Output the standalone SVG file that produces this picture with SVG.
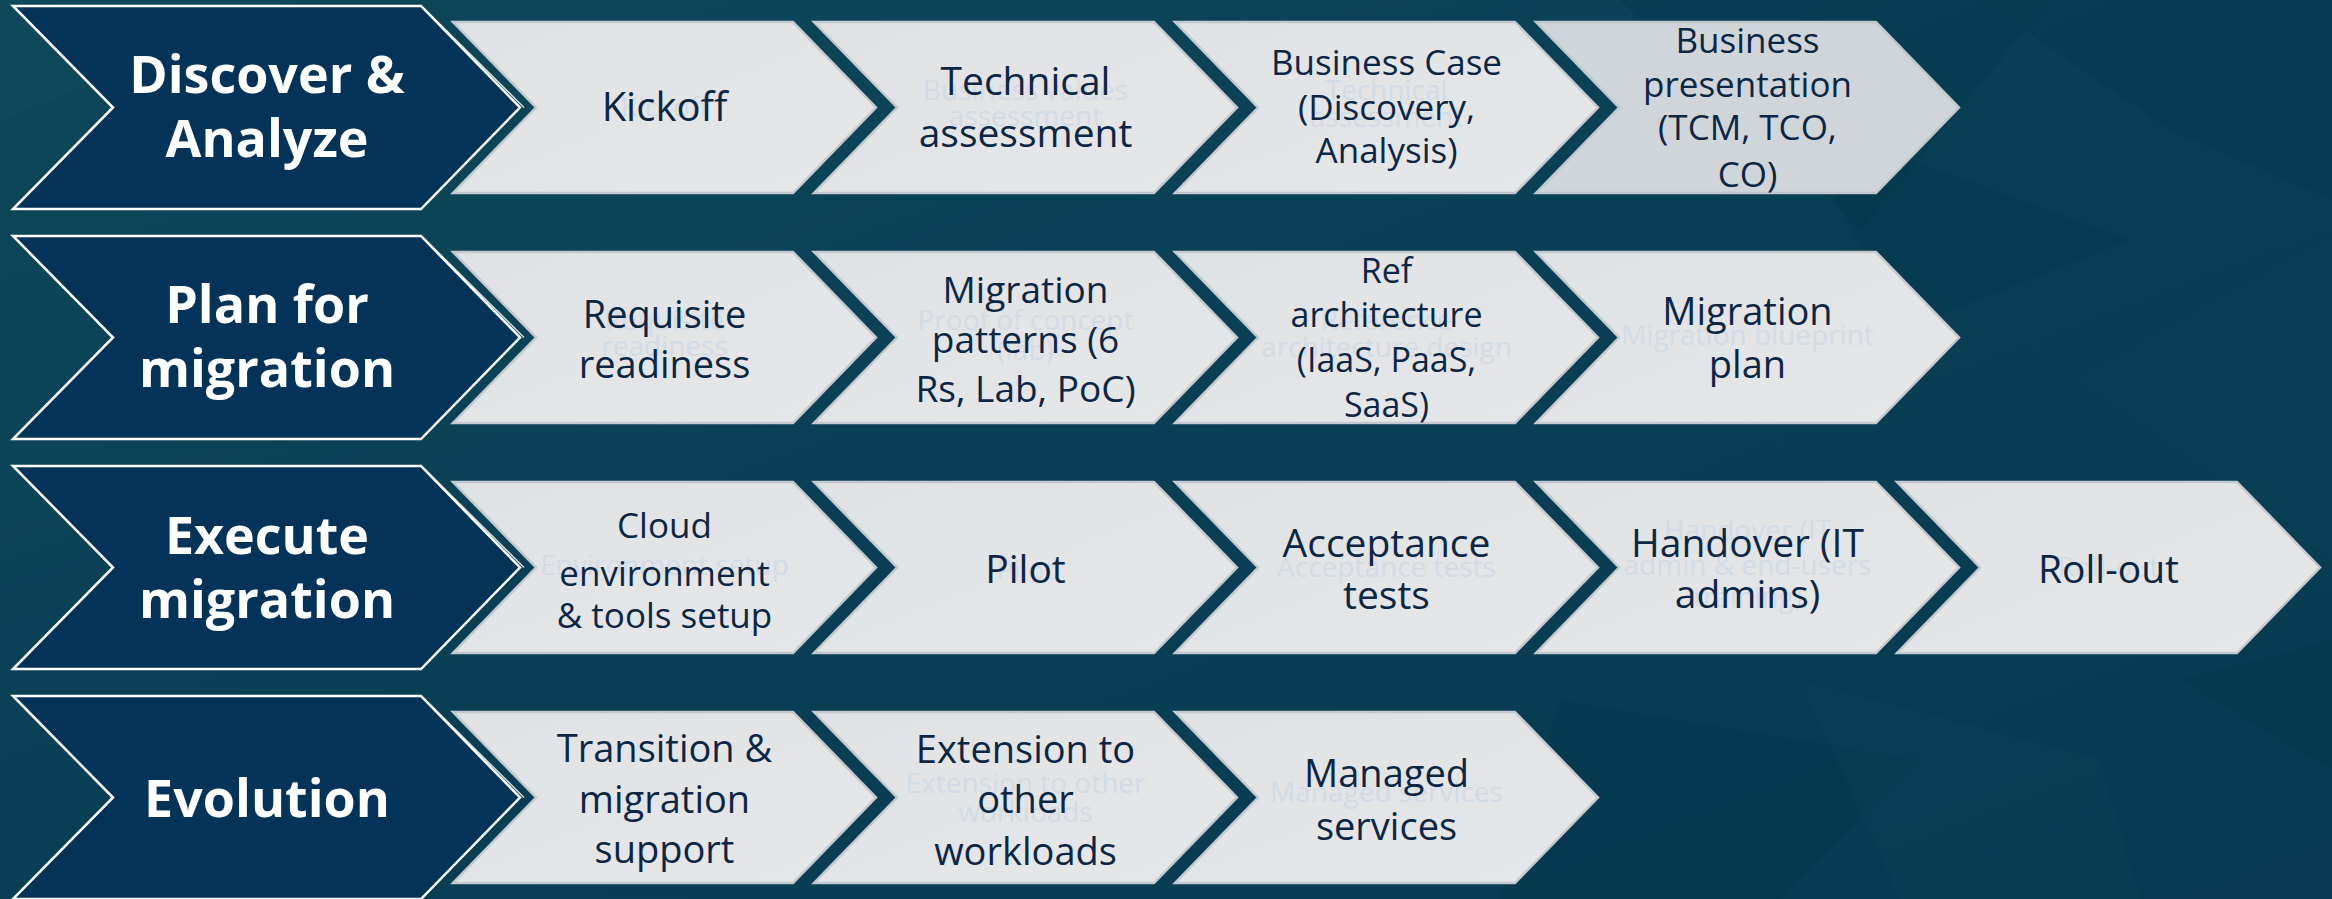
<svg xmlns="http://www.w3.org/2000/svg" xmlns:xlink="http://www.w3.org/1999/xlink" width="2332" height="899" viewBox="0 0 2332 899">
<defs>
<linearGradient id="bg" x1="0" y1="0" x2="1" y2="1">
<stop offset="0" stop-color="#0e4759"/>
<stop offset="0.5" stop-color="#093f55"/>
<stop offset="1" stop-color="#073a50"/>
</linearGradient>
<linearGradient id="lg" x1="0" y1="0" x2="1" y2="1">
<stop offset="0" stop-color="#e1e2e3"/>
<stop offset="1" stop-color="#e6e7e8"/>
</linearGradient>
<path id="dc" d="M0,-101.5 H408 L507,0 L408,101.5 H0 L100,0 Z"/>
<path id="lc" d="M0,-85.5 H340 L423,0 L340,85.5 H0 L83,0 Z"/>
<path id="dl" d="M411,-99 L511,0"/>
</defs>
<style>
.dark{fill:#04335a;stroke:#ffffff;stroke-width:2.5;stroke-linejoin:miter}
.dline{fill:none;stroke:#ffffff;stroke-width:1.5;opacity:0.8}
.light{fill:url(#lg);stroke:#c3c9cf;stroke-width:2.5}
.lightalt{fill:#d0d5d9;stroke:#bfc6cc;stroke-width:2.5}
.ht{font-family:"Open Sans","Noto Sans",sans-serif;font-weight:700;font-size:52px;fill:#ffffff;text-anchor:middle}
.t{font-family:"Open Sans","Noto Sans",sans-serif;fill:#0b2745;text-anchor:middle}
.g{font-family:"Open Sans","Noto Sans",sans-serif;fill:#d2dce6;text-anchor:middle;font-size:28px}
</style>
<rect x="0" y="0" width="2332" height="899" fill="url(#bg)"/>
<g id="background-facets">
<polygon points="1620,0 2050,0 1860,230" fill="#04364a" opacity="0.35"/>
<polygon points="1800,120 2130,240 1900,330" fill="#03354a" opacity="0.35"/>
<polygon points="1980,0 2332,0 2332,200 2170,130" fill="#06384d" opacity="0.4"/>
<polygon points="2080,380 2332,240 2332,560" fill="#0c4659" opacity="0.35"/>
<polygon points="1560,700 1920,760 1780,899 1500,899" fill="#04364a" opacity="0.3"/>
<polygon points="1800,680 2100,760 2140,899 1900,899" fill="#0c4659" opacity="0.3"/>
<polygon points="2180,680 2332,640 2332,770" fill="#04364a" opacity="0.35"/>
<polygon points="0,0 300,0 0,120" fill="#11505f" opacity="0.3"/>
</g>
<g id="phase-discover">
<use href="#dc" x="13" y="107.5" class="dark"/>
<use href="#dl" x="13" y="107.5" class="dline"/>
<text class="ht" x="267" y="93">Discover &amp;</text>
<text class="ht" x="267" y="157">Analyze</text>
</g>
<g id="phase-plan">
<use href="#dc" x="13" y="337.5" class="dark"/>
<use href="#dl" x="13" y="337.5" class="dline"/>
<text class="ht" x="267" y="323">Plan for</text>
<text class="ht" x="267" y="387">migration</text>
</g>
<g id="phase-execute">
<use href="#dc" x="13" y="567.5" class="dark"/>
<use href="#dl" x="13" y="567.5" class="dline"/>
<text class="ht" x="267" y="554">Execute</text>
<text class="ht" x="267" y="618">migration</text>
</g>
<g id="phase-evolution">
<use href="#dc" x="13" y="797.5" class="dark"/>
<use href="#dl" x="13" y="797.5" class="dline"/>
<text class="ht" x="267" y="817">Evolution</text>
</g>
<g id="connectors"/>
<!-- Row 1 -->
<g id="kickoff">
<use href="#lc" x="453" y="107.5" class="light"/>
<text class="g" x="664.5" y="117">Kickoff</text>
<text class="t" font-size="40" x="664.5" y="121">Kickoff</text>
</g>
<g id="technical-assessment">
<use href="#lc" x="814" y="107.5" class="light"/>
<text class="g" x="1025.5" y="100">Business values</text>
<text class="g" x="1025.5" y="126">assessment</text>
<text class="t" font-size="39" x="1025.5" y="95">Technical</text>
<text class="t" font-size="39" x="1025.5" y="147">assessment</text>
</g>
<g id="business-case">
<use href="#lc" x="1175" y="107.5" class="light"/>
<text class="g" x="1386.5" y="100">Technical</text>
<text class="g" x="1386.5" y="127">assessment</text>
<text class="t" font-size="35" x="1386.5" y="75">Business Case</text>
<text class="t" font-size="35" x="1386.5" y="120">(Discovery,</text>
<text class="t" font-size="35" x="1386.5" y="163">Analysis)</text>
</g>
<g id="business-presentation">
<use href="#lc" x="1536" y="107.5" class="lightalt"/>
<text class="t" font-size="35" x="1747.5" y="53">Business</text>
<text class="t" font-size="35" x="1747.5" y="97">presentation</text>
<text class="t" font-size="35" x="1747.5" y="140">(TCM, TCO,</text>
<text class="t" font-size="35" x="1747.5" y="187">CO)</text>
</g>
<!-- Row 2 -->
<g id="requisite-readiness">
<use href="#lc" x="453" y="337.5" class="light"/>
<text class="g" x="664.5" y="330">Requisite</text>
<text class="g" x="664.5" y="356">readiness</text>
<text class="t" font-size="38" x="664.5" y="328">Requisite</text>
<text class="t" font-size="38" x="664.5" y="378">readiness</text>
</g>
<g id="migration-patterns">
<use href="#lc" x="814" y="337.5" class="light"/>
<text class="g" x="1025.5" y="330">Proof of concept</text>
<text class="g" x="1025.5" y="360">(lab)</text>
<text class="t" font-size="37" x="1025.5" y="303">Migration</text>
<text class="t" font-size="37" x="1025.5" y="353">patterns (6</text>
<text class="t" font-size="37" x="1025.5" y="402">Rs, Lab, PoC)</text>
</g>
<g id="ref-architecture">
<use href="#lc" x="1175" y="337.5" class="light"/>
<text class="g" x="1386.5" y="330">Reference</text>
<text class="g" x="1386.5" y="357">architecture design</text>
<text class="t" font-size="34" x="1386.5" y="283">Ref</text>
<text class="t" font-size="34" x="1386.5" y="327">architecture</text>
<text class="t" font-size="34" x="1386.5" y="372">(IaaS, PaaS,</text>
<text class="t" font-size="34" x="1386.5" y="417">SaaS)</text>
</g>
<g id="migration-plan">
<use href="#lc" x="1536" y="337.5" class="light"/>
<text class="g" x="1747.5" y="345">Migration blueprint</text>
<text class="t" font-size="38" x="1747.5" y="325">Migration</text>
<text class="t" font-size="38" x="1747.5" y="378">plan</text>
</g>
<!-- Row 3 -->
<g id="cloud-environment">
<use href="#lc" x="453" y="567.5" class="light"/>
<text class="g" x="664.5" y="575">Environment setup</text>
<text class="t" font-size="35" x="664.5" y="538">Cloud</text>
<text class="t" font-size="35" x="664.5" y="586">environment</text>
<text class="t" font-size="35" x="664.5" y="628">&amp; tools setup</text>
</g>
<g id="pilot">
<use href="#lc" x="814" y="567.5" class="light"/>
<text class="g" x="1025.5" y="580">Pilot</text>
<text class="t" font-size="39" x="1025.5" y="583">Pilot</text>
</g>
<g id="acceptance-tests">
<use href="#lc" x="1175" y="567.5" class="light"/>
<text class="g" x="1386.5" y="577">Acceptance tests</text>
<text class="t" font-size="39" x="1386.5" y="557">Acceptance</text>
<text class="t" font-size="39" x="1386.5" y="609">tests</text>
</g>
<g id="handover">
<use href="#lc" x="1536" y="567.5" class="light"/>
<text class="g" x="1747.5" y="540">Handover (IT</text>
<text class="g" x="1747.5" y="575">admin &amp; end-users</text>
<text class="g" x="1747.5" y="607">training)</text>
<text class="t" font-size="39" x="1747.5" y="557">Handover (IT</text>
<text class="t" font-size="39" x="1747.5" y="608">admins)</text>
</g>
<g id="roll-out">
<use href="#lc" x="1897" y="567.5" class="light"/>
<text class="g" x="2108.5" y="577">Roll-out</text>
<text class="t" font-size="39" x="2108.5" y="583">Roll-out</text>
</g>
<!-- Row 4 -->
<g id="transition-support">
<use href="#lc" x="453" y="797.5" class="light"/>
<text class="t" font-size="38" x="664.5" y="762">Transition  &amp;</text>
<text class="t" font-size="38" x="664.5" y="813">migration</text>
<text class="t" font-size="38" x="664.5" y="863">support</text>
</g>
<g id="extension-workloads">
<use href="#lc" x="814" y="797.5" class="light"/>
<text class="g" x="1025.5" y="793">Extension to other</text>
<text class="g" x="1025.5" y="822">workloads</text>
<text class="t" font-size="38" x="1025.5" y="763">Extension to</text>
<text class="t" font-size="38" x="1025.5" y="813">other</text>
<text class="t" font-size="38" x="1025.5" y="865">workloads</text>
</g>
<g id="managed-services">
<use href="#lc" x="1175" y="797.5" class="light"/>
<text class="g" x="1386.5" y="802">Managed services</text>
<text class="t" font-size="38" x="1386.5" y="787">Managed</text>
<text class="t" font-size="38" x="1386.5" y="840">services</text>
</g>
</svg>
